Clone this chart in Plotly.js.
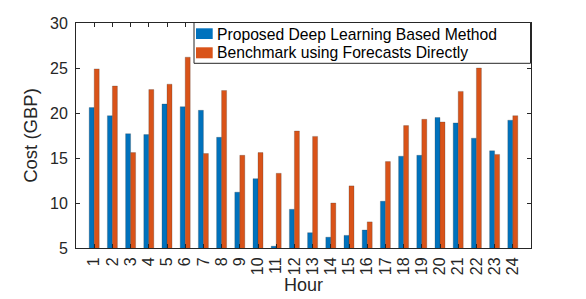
<!DOCTYPE html>
<html><head><meta charset="utf-8">
<script src="https://cdn.plot.ly/plotly-3.0.1.min.js"></script>
<style>html,body{margin:0;padding:0;background:#fff}</style>
</head><body>
<div id="chart" style="width:586px;height:299px"></div>
<script>
const hours = [1,2,3,4,5,6,7,8,9,10,11,12,13,14,15,16,17,18,19,20,21,22,23,24];
const proposed = [20.6,19.7,17.7,17.6,21.0,20.7,20.3,17.3,11.2,12.7,5.2,9.3,6.7,6.2,6.4,7.0,10.2,15.2,15.3,19.5,18.9,17.2,15.8,19.2];
const benchmark = [24.9,23.0,15.6,22.6,23.2,26.2,15.5,22.5,15.3,15.6,13.3,18.0,17.4,10.0,11.9,7.9,14.6,18.6,19.3,19.0,22.4,25.0,15.4,19.7];
const seriesNames = ['Proposed Deep Learning Based Method','Benchmark using Forecasts Directly'];
const colors = ['#0072BD','#D95319'];
const tickLabels = hours.map(String);

const font = 'Liberation Sans, Arial, sans-serif';
const traces = [
  {type:'bar', x:hours, y:proposed, name:seriesNames[0], base:0, showlegend:false,
   marker:{color:colors[0], line:{color:'rgba(60,60,60,0.5)', width:0.5}}},
  {type:'bar', x:hours, y:benchmark, name:seriesNames[1], base:0, showlegend:false,
   marker:{color:colors[1], line:{color:'rgba(60,60,60,0.5)', width:0.5}}}
];

// plot area in pixels
const L = 76, R = 531, T = 23, B = 248;
const px = v => (v - L) / (R - L);
const py = v => 1 - (v - T) / (B - T);

const shapes = [
  {type:'rect', xref:'paper', yref:'paper', x0:px(194), x1:px(530.5), y0:py(63.3), y1:py(22.5),
   fillcolor:'#fff', line:{color:'#262626', width:1}, layer:'above'},
  {type:'rect', xref:'paper', yref:'paper', x0:px(196), x1:px(212.7), y0:py(39), y1:py(28.3),
   fillcolor:colors[0], line:{width:0}, layer:'above'},
  {type:'rect', xref:'paper', yref:'paper', x0:px(196), x1:px(212.7), y0:py(58.3), y1:py(47.3),
   fillcolor:colors[1], line:{width:0}, layer:'above'}
];
const annotations = [
  {xref:'paper', yref:'paper', x:px(214.5), y:py(34), xanchor:'left', yanchor:'middle',
   text:seriesNames[0], showarrow:false, font:{size:15.7, family:font, color:'#000'}},
  {xref:'paper', yref:'paper', x:px(214.5), y:py(53), xanchor:'left', yanchor:'middle',
   text:seriesNames[1], showarrow:false, font:{size:15.7, family:font, color:'#000'}}
];

const axCommon = {showline:true, linecolor:'#262626', linewidth:1, mirror:'ticks',
  ticks:'inside', ticklen:4, tickcolor:'#262626', showgrid:false, zeroline:false};
const layout = {
  width:586, height:299,
  margin:{l:L, r:586-R, t:T, b:299-B, pad:0},
  paper_bgcolor:'#fff', plot_bgcolor:'#fff',
  barmode:'group', bargap:0.45, bargroupgap:0,
  font:{family:font, color:'#262626', size:16},
  showlegend:false,
  shapes:shapes, annotations:annotations,
  xaxis:Object.assign({}, axCommon, {range:[0,25], tickvals:hours, ticktext:tickLabels,
    tickangle:-90, tickfont:{size:16}, ticklabelstandoff:2,
    title:{text:'Hour', font:{size:18}, standoff:3}}),
  yaxis:Object.assign({}, axCommon, {range:[5,30], tickvals:[5,10,15,20,25,30],
    tickfont:{size:16}, ticklabelstandoff:4,
    title:{text:'Cost (GBP)', font:{size:18.5}, standoff:7}})
};
Plotly.newPlot('chart', traces, layout, {displayModeBar:false, staticPlot:true});
</script>
</body></html>
